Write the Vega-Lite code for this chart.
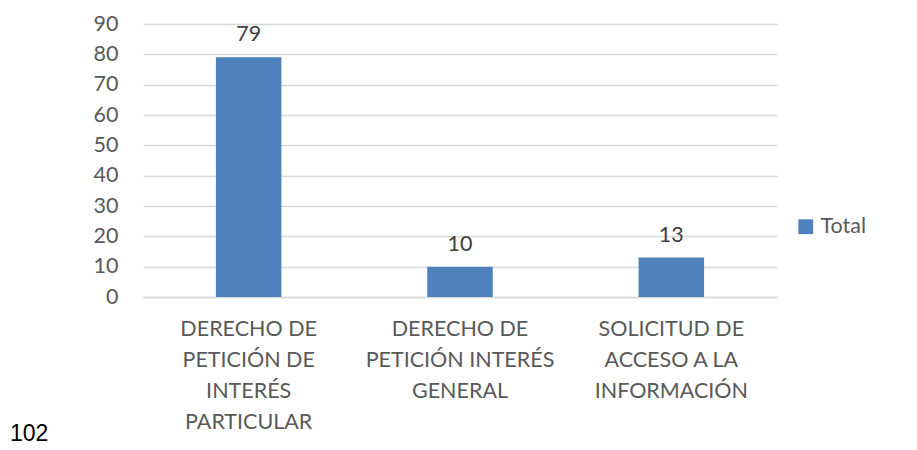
{
  "$schema": "https://vega.github.io/schema/vega-lite/v6.json",
  "autosize": "none",
  "width": 634,
  "height": 273,
  "padding": {"left": 143, "top": 24, "right": 140, "bottom": 153},
  "background": "white",
  "title": {"text": "102", "orient": "bottom", "anchor": "start", "frame": "group", "dx": -133, "offset": 1, "baseline": "middle", "fontSize": 23, "font": "Liberation Sans", "fontWeight": "normal", "color": "#000000"},
  "data": {"values": [
    {"tipo": "DERECHO DE PETICIÓN DE INTERÉS PARTICULAR", "serie": "Total", "valor": 79},
    {"tipo": "DERECHO DE PETICIÓN INTERÉS GENERAL", "serie": "Total", "valor": 10},
    {"tipo": "SOLICITUD DE ACCESO A LA INFORMACIÓN", "serie": "Total", "valor": 13}
  ]},
  "encoding": {
    "x": {"field": "tipo", "type": "nominal", "sort": null, "title": null,
      "scale": {"paddingInner": 0.69, "paddingOuter": 0.345},
      "axis": {"labelAngle": 0, "labelFont": "Lato", "labelFontSize": 21.5, "labelColor": "#595959", "labelBaseline": "top", "labelPadding": 21, "labelLineHeight": 31, "labelLimit": 400, "ticks": false, "domainColor": "#d9d9d9", "domainWidth": 1.5,
        "labelExpr": "datum.value == 'DERECHO DE PETICIÓN DE INTERÉS PARTICULAR' ? ['DERECHO DE', 'PETICIÓN DE', 'INTERÉS', 'PARTICULAR'] : datum.value == 'DERECHO DE PETICIÓN INTERÉS GENERAL' ? ['DERECHO DE', 'PETICIÓN INTERÉS', 'GENERAL'] : ['SOLICITUD DE', 'ACCESO A LA', 'INFORMACIÓN']"}},
    "y": {"field": "valor", "type": "quantitative", "title": null,
      "scale": {"domain": [0, 90]},
      "axis": {"values": [0,10,20,30,40,50,60,70,80,90], "labelFont": "Lato", "labelFontSize": 21.5, "labelColor": "#595959", "labelPadding": 25, "ticks": false, "domain": false, "gridColor": "#d9d9d9", "gridWidth": 1.5}}
  },
  "layer": [
    {"mark": {"type": "bar", "color": "#4F81BD"},
     "encoding": {"color": {"field": "serie", "type": "nominal", "scale": {"range": ["#4F81BD"]},
       "legend": {"title": null, "orient": "none", "legendX": 652, "legendY": 192, "symbolType": "square", "symbolSize": 220, "labelFont": "Lato", "labelFontSize": 21.5, "labelColor": "#595959", "symbolStrokeWidth": 0}}}},
    {"mark": {"type": "text", "baseline": "bottom", "dy": -11, "font": "Lato", "fontSize": 21.5, "color": "#404040"},
     "encoding": {"text": {"field": "valor", "type": "quantitative"}}}
  ],
  "config": {"view": {"stroke": null}}
}
